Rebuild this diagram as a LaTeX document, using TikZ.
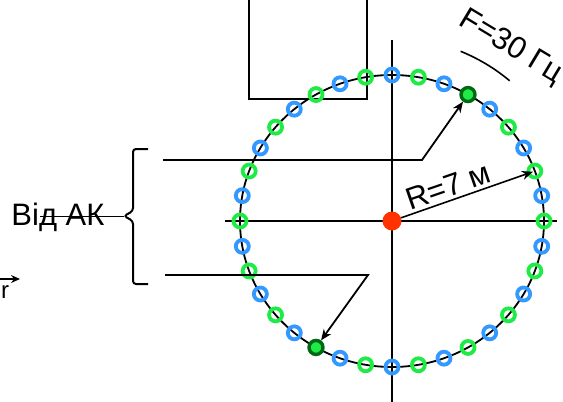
\documentclass[tikz,border=0pt]{standalone}
\usepackage{fontspec}
\setmainfont{Liberation Sans}
\usetikzlibrary{arrows.meta}
\definecolor{mblue}{RGB}{51,153,255}
\definecolor{mgreen}{RGB}{30,235,70}
\definecolor{dgreen}{RGB}{0,105,20}
\definecolor{dotred}{RGB}{255,50,0}
\tikzset{
  big/.style={font=\fontsize{31}{37}\selectfont},
  thin line/.style={line width=1.6pt},
  conn/.style={line width=1.8pt,-{Stealth[length=11pt,width=9pt,inset=3.5pt]}},
  bmark/.style={circle,inner sep=0pt,minimum size=13pt,line width=3.8pt,draw=mblue},
  gmark/.style={circle,inner sep=0pt,minimum size=13pt,line width=3.8pt,draw=mgreen},
  dmark/.style={circle,inner sep=0pt,minimum size=14pt,line width=3.4pt,draw=dgreen,fill=mgreen},
}
\begin{document}
\begin{tikzpicture}[x=1pt,y=-1pt]
\useasboundingbox (0,0) rectangle (563,402);

% frame at the top
\draw[line width=2pt] (249,-10) rectangle (367,99);

% axes
\draw[thin line] (225,221) -- (557,221);
\draw[thin line] (392,40) -- (392,410);

% orbit
\draw[line width=1.8pt] (392,221) ellipse [x radius=152, y radius=146];

% markers every 10 degrees
\foreach \i in {0,...,35}{
  \pgfmathtruncatemacro{\odd}{mod(\i,2)}
  \pgfmathsetmacro{\px}{392+152*cos(10*\i)}
  \pgfmathsetmacro{\py}{221-146*sin(10*\i)}
  \ifnum\i=6
    \node[dmark] (m\i) at (\px,\py) {};
  \else\ifnum\i=24
    \node[dmark] (m\i) at (\px,\py) {};
  \else\ifnum\odd=1
    \node[bmark] (m\i) at (\px,\py) {};
  \else
    \node[gmark] (m\i) at (\px,\py) {};
  \fi\fi\fi
}

% centre
\node[circle,fill=dotred,inner sep=0pt,minimum size=19pt] (c) at (392,221) {};

% radius
\draw[line width=1.6pt,-{Stealth[length=11pt,width=9pt,inset=3.5pt]},shorten >=2pt] (c) -- (m2.center);
\node[big,rotate=19] (rl) at (448,186) {R=7 м};

% frequency label and arc
\node[big,rotate=-31] (fl) at (511,47) {F=30 Гц};
\draw[line width=1.6pt] (460.6,51.3) arc[start angle=-68, end angle=-50, radius=183];

% brace
\draw[line width=2pt,rounded corners=3pt] (148,149) -- (133,149) -- (133,211) -- (124,216) -- (133,221) -- (133,284) -- (148,284);
\coordinate (bt) at (124,216);
\coordinate (bl) at (40,216);
\draw[line width=1pt] (bt) -- (bl);
\node[big] (ak) at (58,217) {Від АК};

% connectors to the marked points
\coordinate (a0) at (163,160);
\coordinate (a1) at (422,160);
\draw[conn] (a0) -- (a1) -- (m6);
\coordinate (b0) at (165,275);
\coordinate (b1) at (368,275);
\draw[conn] (b0) -- (b1) -- (m24);

% partial arrow at the left edge
\coordinate (e0) at (-10,279);
\coordinate (e1) at (20,279);
\draw[line width=1.8pt,-{Stealth[length=9pt,width=8pt,inset=3pt]}] (e0) -- (e1);
\node[font=\fontsize{24}{28}\selectfont,anchor=base west,inner sep=0pt] (et) at (1,298) {r};
\end{tikzpicture}
\end{document}
